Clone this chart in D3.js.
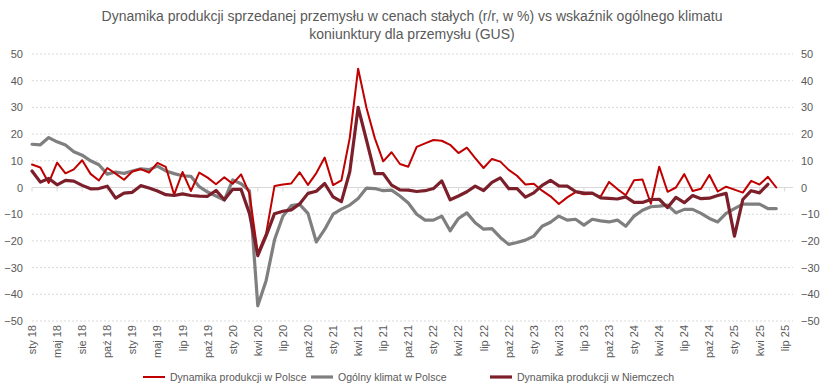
<!DOCTYPE html>
<html><head><meta charset="utf-8">
<script src="https://cdn.jsdelivr.net/npm/d3@7"></script>
<style>
body{margin:0;background:#fff;font-family:"Liberation Sans",Arial,sans-serif;}
svg text{font-family:"Liberation Sans",Arial,sans-serif;}
</style></head>
<body><svg id="c" width="825" height="392"></svg>
<script>
const titleLines = ["Dynamika produkcji sprzedanej przemysłu w cenach stałych (r/r, w %) vs wskaźnik ogólnego klimatu", "koniunktury dla przemysłu (GUS)"];
const seriesNames = ["Dynamika produkcji w Polsce", "Ogólny klimat w Polsce", "Dynamika produkcji w Niemczech"];
// monthly categories Jan 2018 - Aug 2025 (92 months)
const categories = [];
for (let y = 2018; y <= 2025; y++) for (let m = 1; m <= 12; m++) { if (y === 2025 && m > 8) break; categories.push(y + "-" + String(m).padStart(2, "0")); }
const tickLabels = ["sty 18","maj 18","sie 18","paź 18","sty 19","maj 19","lip 19","paź 19","sty 20","kwi 20","lip 20","paź 20","sty 21","kwi 21","lip 21","paź 21","sty 22","kwi 22","lip 22","paź 22","sty 23","kwi 23","lip 23","paź 23","sty 24","kwi 24","lip 24","paź 24","sty 25","kwi 25","lip 25"];
const yTicks = [-50,-40,-30,-20,-10,0,10,20,30,40,50];
const prodPL = [8.6,7.5,1.7,9.3,5.3,6.8,10.2,5.1,2.6,7.3,5.2,2.9,
  6.0,6.9,5.6,9.2,7.7,-2.7,5.8,-1.3,5.6,3.7,1.2,3.8,
  1.4,4.9,-2.3,-24.6,-17.2,0.6,1.1,1.5,5.7,1.0,5.4,11.2,
  0.9,2.7,18.6,44.5,29.8,18.4,9.8,13.2,8.8,7.8,15.2,16.5,
  17.8,17.5,16.0,12.9,14.9,11.0,7.3,10.7,9.7,6.6,4.4,1.1,
  1.4,-1.2,-3.3,-6.2,-3.7,-1.7,-2.5,-2.3,-3.4,2.1,-0.6,-2.9,
  2.7,3.0,-6.1,7.8,-1.6,0.0,5.0,-1.3,-0.5,4.7,-1.5,0.3,
  -0.8,-1.9,2.5,1.1,4.0,0.0];
const climatePL = [16.2,16.0,18.7,17.1,15.9,13.4,12.1,10.0,8.5,5.0,5.8,5.3,
  6.2,7.0,6.7,8.0,6.2,5.2,4.4,4.2,0.3,-1.7,-3.2,-4.7,
  2.8,1.4,-1.2,-44.3,-34.8,-19.6,-10.8,-6.8,-6.3,-9.7,-20.4,-15.7,
  -10.0,-8.1,-6.6,-4.1,-0.2,-0.4,-1.2,-1.0,-3.2,-5.8,-10.0,-12.2,
  -12.2,-10.7,-16.2,-11.6,-9.5,-13.2,-15.6,-15.4,-18.7,-21.3,-20.6,-19.7,
  -18.2,-14.5,-13.0,-10.7,-12.2,-11.9,-14.1,-11.9,-12.5,-12.9,-12.2,-14.5,
  -10.7,-8.5,-7.2,-7.0,-6.6,-9.5,-8.2,-8.2,-9.7,-11.6,-12.9,-9.7,
  -7.9,-6.2,-6.2,-6.2,-7.9,-7.9];
const prodDE = [6.2,2.0,3.4,1.0,2.7,2.4,0.8,-0.5,-0.4,0.5,-4.0,-2.1,
  -1.8,0.7,-0.2,-1.3,-2.7,-3.0,-2.4,-3.0,-3.2,-3.3,-1.1,-4.6,
  -0.7,-0.7,-9.7,-25.5,-18.0,-9.8,-8.9,-8.4,-6.2,-2.2,-1.4,1.5,
  -3.5,-5.3,5.9,30.0,17.7,5.2,5.2,0.9,-0.9,-1.0,-1.5,-1.2,
  -0.4,2.5,-4.6,-3.2,-1.6,0.5,-1.2,1.9,3.6,-0.4,-0.4,-3.6,
  -2.0,0.8,2.7,0.6,0.5,-1.5,-2.1,-2.1,-3.9,-4.1,-4.3,-3.5,
  -5.6,-5.6,-4.5,-4.4,-7.5,-3.7,-5.7,-3.0,-4.2,-4.0,-3.0,-2.2,
  -18.2,-4.5,-1.2,-2.0,1.2];
const colors = ["#C00000", "#7F7F7F", "#7B1F2A"];
const widths = [2, 3.2, 3.2];

const svg = d3.select("#c");
const x = d3.scalePoint().domain(categories).range([32, 793]);
const y = d3.scaleLinear().domain([-50, 50]).range([321, 54]);
const txt = "#595959";

// title
svg.append("g").selectAll("text").data(titleLines).join("text")
  .attr("x", 412).attr("y", (d,i) => 21 + i*18).attr("text-anchor","middle")
  .attr("font-size", 14).attr("fill", txt).text(d => d);

// gridlines
svg.append("g").selectAll("line").data(yTicks.filter(v => v !== 0)).join("line")
  .attr("x1", 32).attr("x2", 793).attr("y1", d => y(d)).attr("y2", d => y(d))
  .attr("stroke", "#D9D9D9").attr("stroke-width", 1).attr("stroke-dasharray", "2,2");
// zero axis with ticks
svg.append("line").attr("x1", 32).attr("x2", 793).attr("y1", y(0)).attr("y2", y(0))
  .attr("stroke", "#D9D9D9").attr("stroke-width", 1);
const tickCats = tickLabels.map((t, i) => categories[i*3]);
svg.append("g").selectAll("line").data(tickCats).join("line")
  .attr("x1", d => x(d)).attr("x2", d => x(d)).attr("y1", y(0)).attr("y2", y(0) + 4)
  .attr("stroke", "#D9D9D9").attr("stroke-width", 1);

// y axes
const yl = svg.append("g").attr("transform", "translate(23,0)")
  .call(d3.axisLeft(y).tickValues(yTicks).tickSize(0).tickPadding(0));
const yr = svg.append("g").attr("transform", "translate(801,0)")
  .call(d3.axisRight(y).tickValues(yTicks).tickSize(0).tickPadding(0));
[yl, yr].forEach(g => { g.select(".domain").remove();
  g.selectAll("text").attr("font-size", 11).attr("fill", txt).attr("font-family", "Liberation Sans, Arial, sans-serif"); });

// x labels
svg.append("g").selectAll("text").data(tickLabels).join("text")
  .attr("transform", (d,i) => `translate(${x(categories[i*3]) + 4},325) rotate(-90)`)
  .attr("text-anchor", "end").attr("font-size", 11).attr("fill", txt).text(d => d);

// lines
const allSeries = [prodPL, climatePL, prodDE];
const line = d3.line().x((d,i) => x(categories[i])).y(d => y(d));
const drawOrder = [1, 0, 2];
drawOrder.forEach(k => {
  svg.append("path").datum(allSeries[k]).attr("d", line)
    .attr("fill", "none").attr("stroke", colors[k]).attr("stroke-width", widths[k])
    .attr("stroke-linejoin", "round").attr("stroke-linecap", "round");
});

// legend
const legX = [143, 311, 490];
const lg = svg.append("g").selectAll("g").data(seriesNames).join("g")
  .attr("transform", (d,i) => `translate(${legX[i]},377)`);
lg.append("line").attr("x1", 0).attr("x2", 22).attr("y1", 0).attr("y2", 0)
  .attr("stroke", (d,i) => colors[i]).attr("stroke-width", (d,i) => widths[i]);
lg.append("text").attr("x", 27).attr("y", 4).attr("font-size", 10.5).attr("fill", txt).text(d => d);
</script></body></html>
